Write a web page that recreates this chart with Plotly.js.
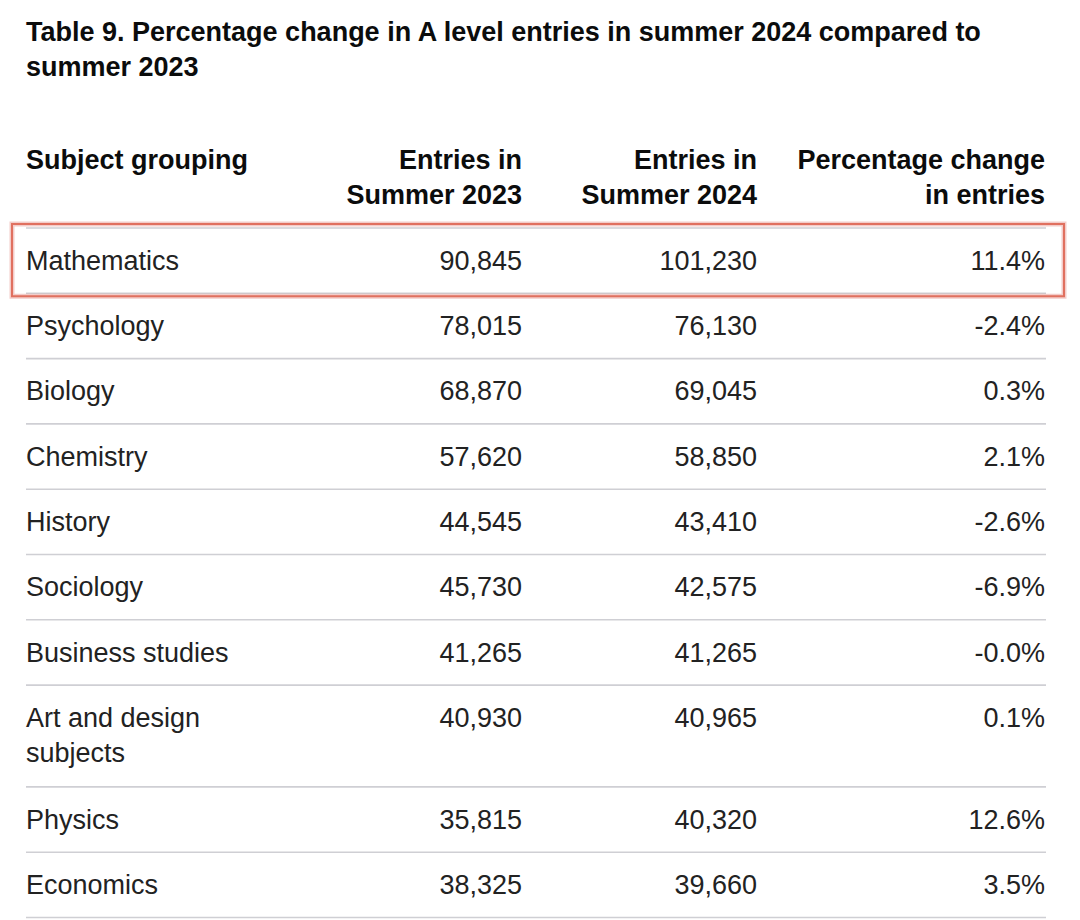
<!DOCTYPE html>
<html>
<head>
<meta charset="utf-8">
<script src="https://cdn.plot.ly/plotly-3.0.1.min.js"></script>
<style>html,body{margin:0;padding:0;background:#fff;}#chart{width:1080px;height:920px;}</style>
</head>
<body>
<div id="chart"></div>
<script>
// ---- data ----
const titleText = "Table 9. Percentage change in A level entries in summer 2024 compared to<br>summer 2023";
const headers = ["Subject grouping", "Entries in<br>Summer 2023", "Entries in<br>Summer 2024", "Percentage change<br>in entries"];
const subjects = ["Mathematics", "Psychology", "Biology", "Chemistry", "History", "Sociology", "Business studies", "Art and design<br>subjects", "Physics", "Economics"];
const entries2023 = [90845, 78015, 68870, 57620, 44545, 45730, 41265, 40930, 35815, 38325];
const entries2024 = [101230, 76130, 69045, 58850, 43410, 42575, 41265, 40965, 40320, 39660];
const pctChange = ["11.4%", "-2.4%", "0.3%", "2.1%", "-2.6%", "-6.9%", "-0.0%", "0.1%", "12.6%", "3.5%"];
const highlighted = ["Mathematics"];

// ---- layout constants ----
const FONT = "Liberation Sans, Arial, Helvetica, sans-serif";
const FS = 27;
const LINE = 35.5;
const ROW_H = 65.3;
const HEADER_LINE_Y = 228;
const HEADER_FIRST_Y = 162;
const FIRST_PAD = 35;
const colX = [26, 522, 757, 1045];
const colPos = ["middle right", "middle left", "middle left", "middle left"];
const lineX0 = 26, lineX1 = 1046;

const fmt = n => String(n).replace(/\B(?=(\d{3})+(?!\d))/g, ",");
const nLines = s => s.split("<br>").length;

// row geometry
const rowTop = [];
const rowBottom = [];
let y = HEADER_LINE_Y;
subjects.forEach(s => {
  rowTop.push(y);
  y += ROW_H + (nLines(s) - 1) * (LINE + 1);
  rowBottom.push(y);
});

const traces = [];
// header
headers.forEach((h, c) => {
  traces.push({
    type: "scatter", mode: "text",
    x: [colX[c]], y: [HEADER_FIRST_Y + (nLines(h) - 1) * LINE / 2],
    text: [h], textposition: colPos[c],
    textfont: {family: FONT, size: FS, color: "#0b0c0c", weight: 700},
    hoverinfo: "skip", cliponaxis: false
  });
});
// body columns
const cols = [subjects, entries2023.map(fmt), entries2024.map(fmt), pctChange];
cols.forEach((vals, c) => {
  traces.push({
    type: "scatter", mode: "text",
    x: vals.map(() => colX[c]),
    y: vals.map((v, i) => rowTop[i] + FIRST_PAD + (nLines(v) - 1) * LINE / 2),
    text: vals, textposition: colPos[c],
    textfont: {family: FONT, size: FS, color: "#222222"},
    hoverinfo: "skip", cliponaxis: false
  });
});

// separator lines
const shapes = [];
[HEADER_LINE_Y].concat(rowBottom).forEach(yy => {
  shapes.push({type: "line", xref: "x", yref: "y", x0: lineX0, x1: lineX1, y0: yy, y1: yy,
    line: {color: "#cfcfd4", width: 1.6}, layer: "below"});
});
// highlight box
subjects.forEach((s, i) => {
  if (highlighted.includes(s)) {
    shapes.push({type: "rect", xref: "x", yref: "y", x0: 12, x1: 1064, y0: rowTop[i] - 4, y1: rowBottom[i] + 3,
      line: {color: "rgba(220,110,100,0.35)", width: 5}, layer: "below"});
    shapes.push({type: "rect", xref: "x", yref: "y", x0: 12, x1: 1064, y0: rowTop[i] - 4, y1: rowBottom[i] + 3,
      line: {color: "#e0705f", width: 2}, layer: "above"});
  }
});

const layout = {
  width: 1080, height: 920,
  margin: {l: 0, r: 0, t: 0, b: 0},
  paper_bgcolor: "#ffffff", plot_bgcolor: "#ffffff",
  showlegend: false,
  title: {
    text: titleText,
    x: 26 / 1080, xanchor: "left", xref: "paper",
    y: 1 - 41 / 920, yanchor: "top", yref: "container",
    font: {family: FONT, size: FS, color: "#0b0c0c", weight: 700}
  },
  xaxis: {range: [0, 1080], visible: false, fixedrange: true},
  yaxis: {range: [920, 0], visible: false, fixedrange: true},
  shapes: shapes
};

Plotly.newPlot("chart", traces, layout, {displayModeBar: false, staticPlot: true});
</script>
</body>
</html>
